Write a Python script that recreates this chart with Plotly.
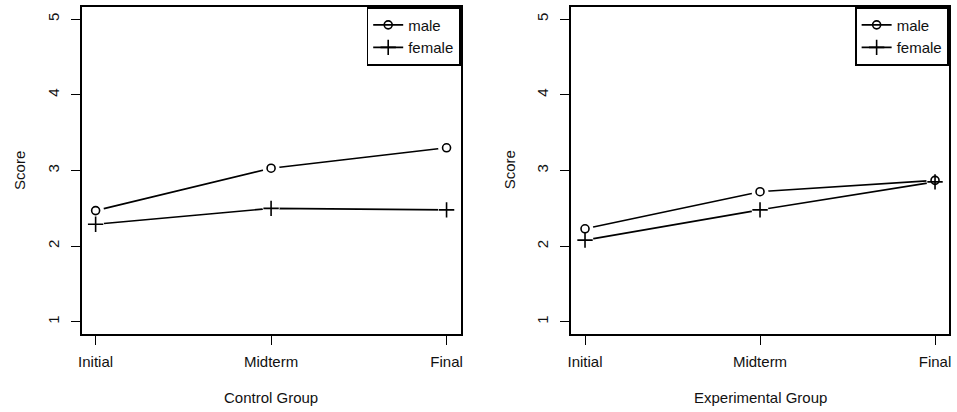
import plotly.graph_objects as go

categories = ["Initial", "Midterm", "Final"]
control_male = [2.47, 3.03, 3.30]
control_female = [2.29, 2.50, 2.48]
exp_male = [2.23, 2.72, 2.87]
exp_female = [2.08, 2.48, 2.85]
y_ticks = [1, 2, 3, 4, 5]
series_names = ["male", "female"]
panel_titles = ["Control Group", "Experimental Group"]
y_title = "Score"

W, H = 957, 412
FONT = "Liberation Sans, Arial, Helvetica, sans-serif"
FS = 15

panels = [
    ("x", "y", "legend", [control_male, control_female]),
    ("x2", "y2", "legend2", [exp_male, exp_female]),
]
symbols = ["circle-open", "cross-thin"]
sizes = [8, 11]

fig = go.Figure()
# lines (with legend entry)
for xa, ya, lg, data in panels:
    for name, vals, sym, sz in zip(series_names, data, symbols, sizes):
        fig.add_trace(go.Scatter(
            x=categories, y=vals, mode="lines+markers", name=name,
            xaxis=xa, yaxis=ya, legend=lg,
            line=dict(color="black", width=1.6),
            marker=dict(symbol=sym, size=sz, color="black",
                        line=dict(color="black", width=1.6)),
        ))
# white halos to create gaps (R type="b")
for xa, ya, lg, data in panels:
    for vals in data:
        fig.add_trace(go.Scatter(
            x=categories, y=vals, mode="markers", showlegend=False,
            xaxis=xa, yaxis=ya, hoverinfo="skip",
            marker=dict(symbol="circle", size=17, color="white",
                        line=dict(width=0)),
        ))
# markers on top
for xa, ya, lg, data in panels:
    for name, vals, sym, sz in zip(series_names, data, symbols, sizes):
        fig.add_trace(go.Scatter(
            x=categories, y=vals, mode="markers", showlegend=False,
            xaxis=xa, yaxis=ya, hoverinfo="skip",
            marker=dict(symbol=sym, size=sz, color="black",
                        line=dict(color="black", width=1.6)),
        ))

def px_x(p):
    return p / W

def px_y(p):
    return 1 - p / H

axis_common = dict(
    showgrid=False, zeroline=False, showline=True, mirror=True,
    linecolor="black", linewidth=1.6, ticks="outside", ticklen=9,
    tickwidth=1.4, tickcolor="black",
    tickfont=dict(family=FONT, size=FS, color="#111"),
)

yd = [px_y(334), px_y(7)]
fig.update_layout(
    width=W, height=H,
    margin=dict(l=0, r=0, t=0, b=0),
    paper_bgcolor="white", plot_bgcolor="white",
    font=dict(family=FONT, size=FS, color="#111"),
    xaxis=dict(domain=[px_x(79), px_x(460)], anchor="y", type="category",
               categoryorder="array", categoryarray=categories,
               range=[-0.08, 2.08], ticklabelstandoff=4, **axis_common),
    yaxis=dict(domain=yd, anchor="x", range=[0.84, 5.16], tickvals=y_ticks,
               tickangle=-90, ticklabelstandoff=6, **axis_common),
    xaxis2=dict(domain=[px_x(571), px_x(951)], anchor="y2", type="category",
                categoryorder="array", categoryarray=categories,
                range=[-0.08, 2.08], ticklabelstandoff=4, **axis_common),
    yaxis2=dict(domain=yd, anchor="x2", range=[0.84, 5.16], tickvals=y_ticks,
                tickangle=-90, ticklabelstandoff=6, **axis_common),
    legend=dict(x=px_x(460), y=px_y(7), xanchor="right", yanchor="top",
                bgcolor="white", bordercolor="black", borderwidth=1.6,
                font=dict(family=FONT, size=FS, color="#111"),
                tracegroupgap=0, itemwidth=30),
    legend2=dict(x=px_x(951), y=px_y(7), xanchor="right", yanchor="top",
                 bgcolor="white", bordercolor="black", borderwidth=1.6,
                 font=dict(family=FONT, size=FS, color="#111"),
                 tracegroupgap=0, itemwidth=30),
    showlegend=True,
)

annots = []
for cx, t in zip([269.5, 761.5], panel_titles):
    annots.append(dict(x=px_x(cx), y=px_y(397), xref="paper", yref="paper",
                       text=t, showarrow=False, xanchor="center", yanchor="middle",
                       font=dict(family=FONT, size=FS, color="#111")))
for cx in [16, 509]:
    annots.append(dict(x=px_x(cx), y=px_y(170), xref="paper", yref="paper",
                       text=y_title, showarrow=False, textangle=-90,
                       xanchor="center", yanchor="middle",
                       font=dict(family=FONT, size=FS, color="#111")))
fig.update_layout(annotations=annots)

fig.write_html(
    "out.html",
    config={"displayModeBar": False},
    post_script="document.body.style.margin='0';document.body.style.overflow='hidden';",
)
